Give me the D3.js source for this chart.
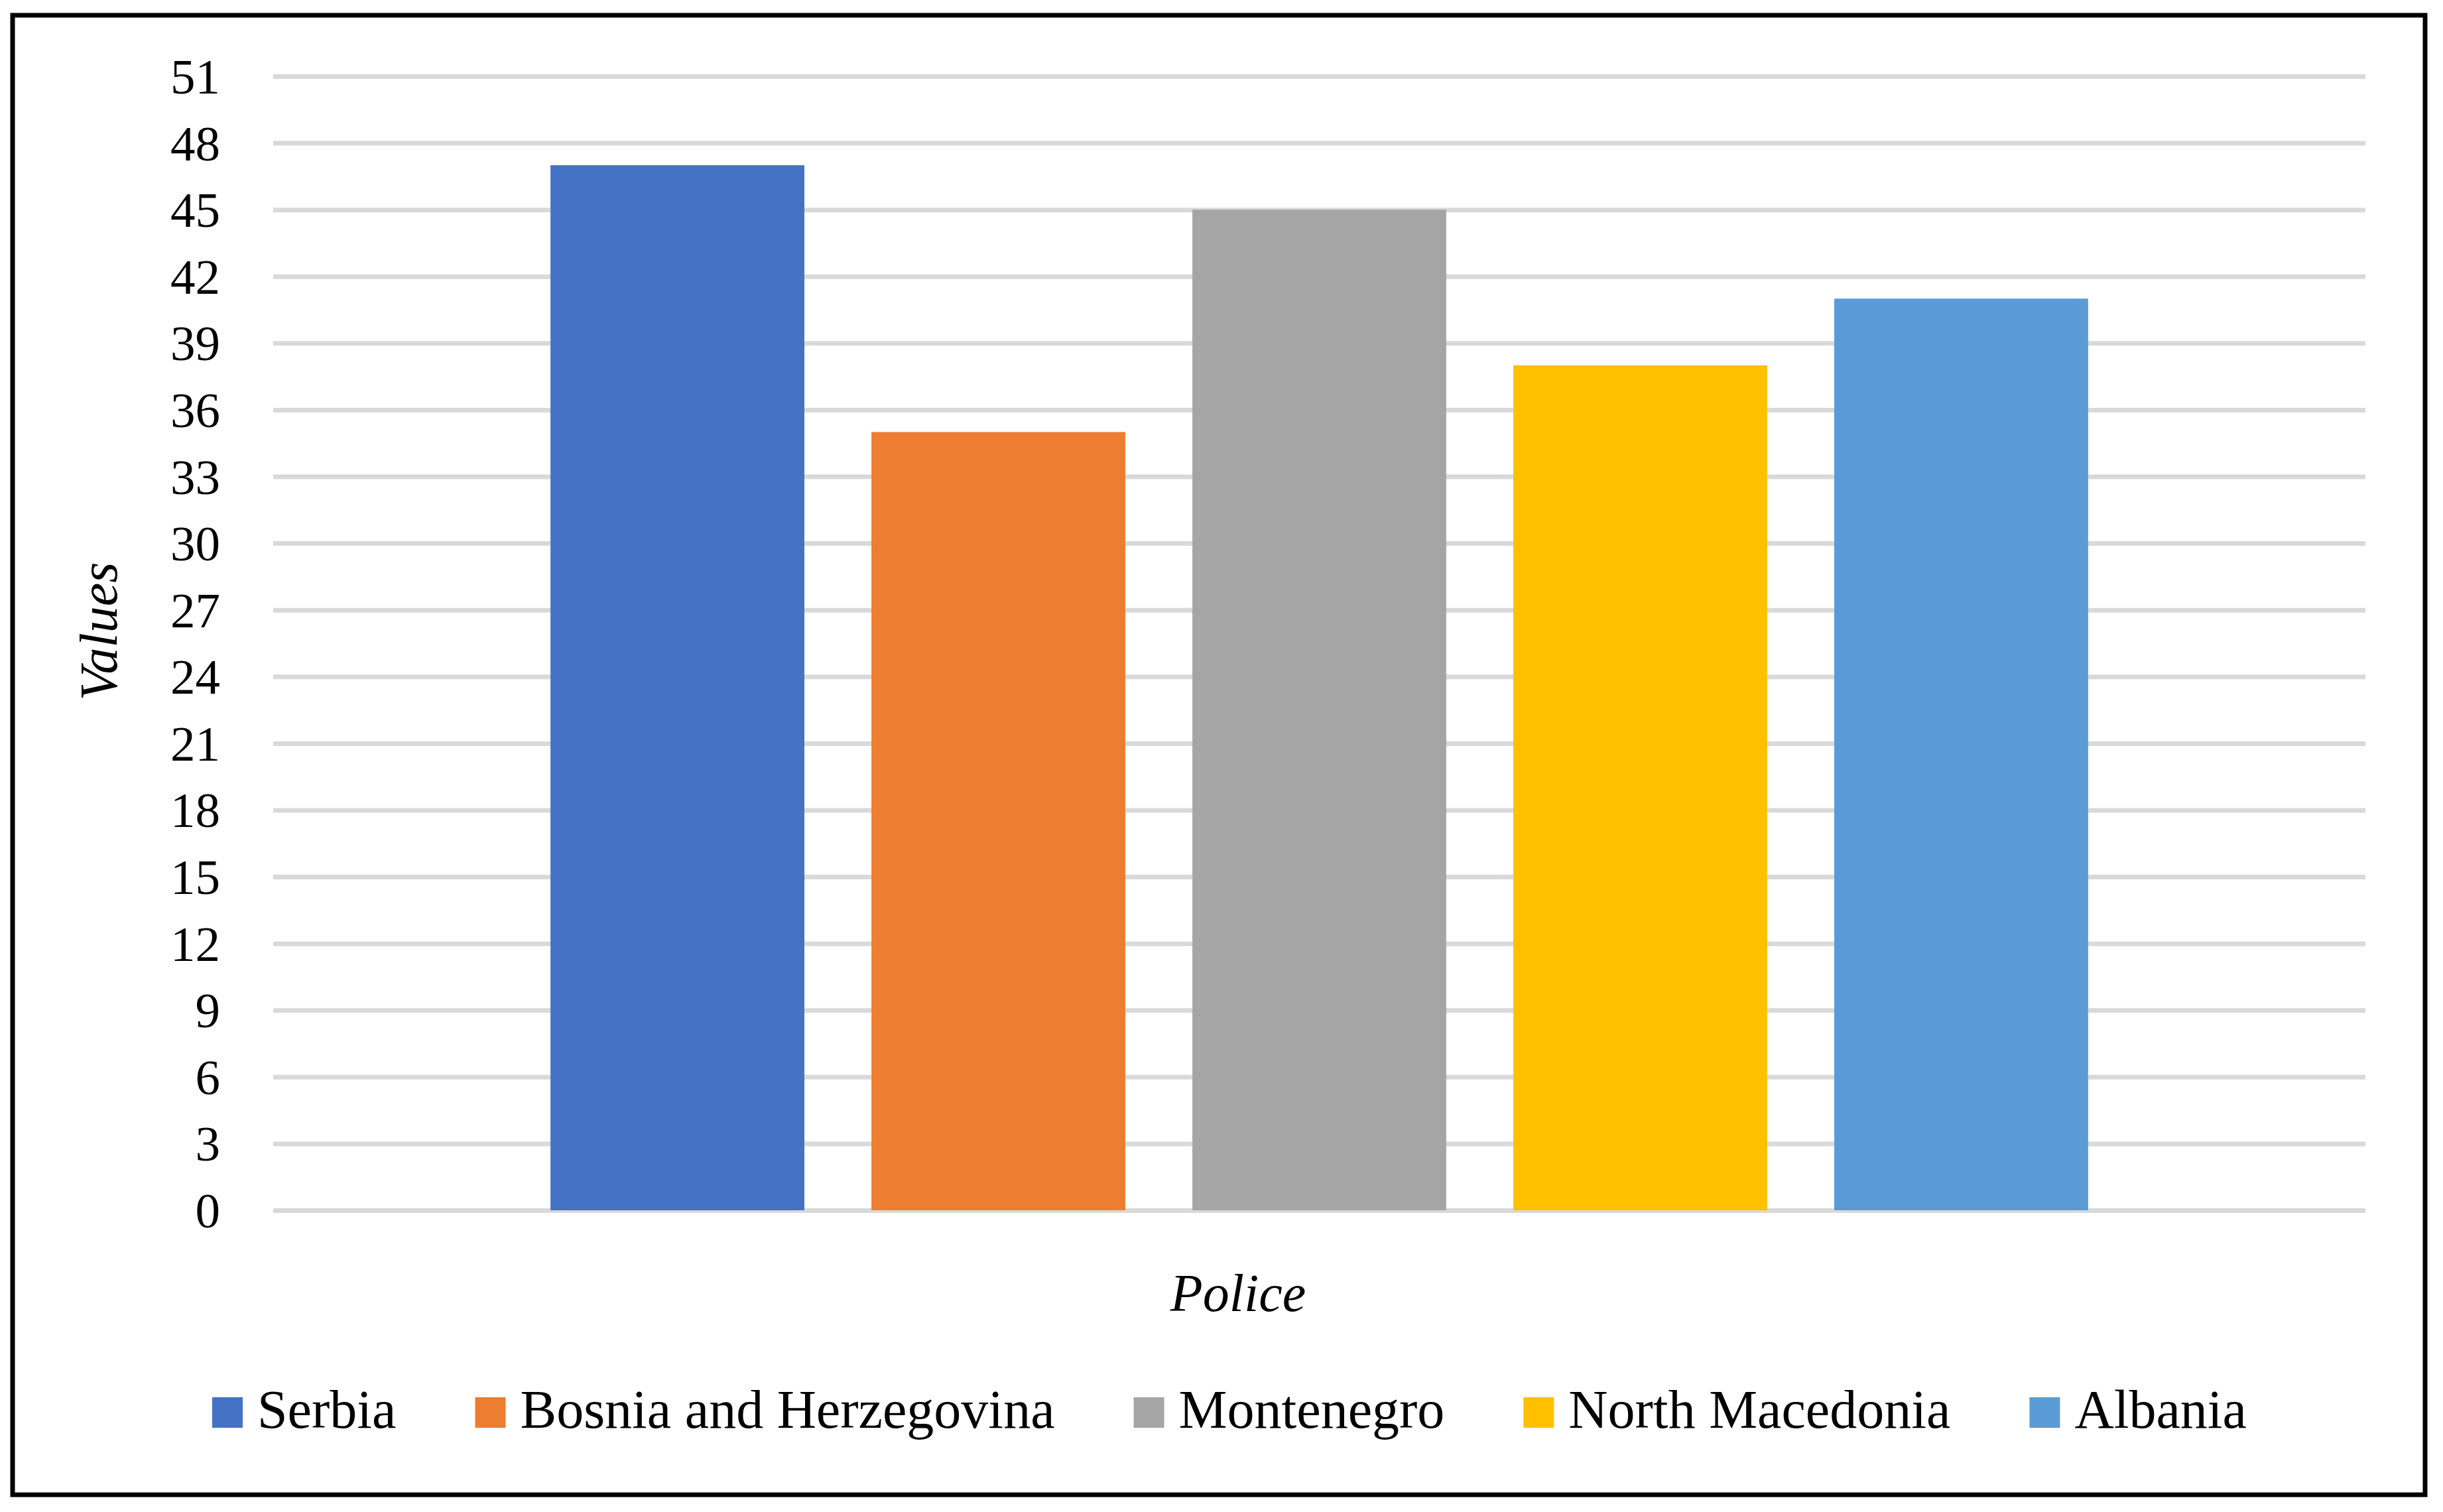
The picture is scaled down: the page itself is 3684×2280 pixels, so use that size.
<!DOCTYPE html>
<html>
<head>
<meta charset="utf-8">
<script src="https://cdn.jsdelivr.net/npm/d3@7"></script>
<style>
  html, body { margin: 0; padding: 0; background: #fff; }
  svg { display: block; }
  text { font-family: "Liberation Serif", "Times New Roman", serif; fill: #000; }
</style>
</head>
<body>
<svg id="chart" width="3684" height="2280"></svg>
<script>
// ---- data ----
const category = "Police";
const seriesNames = ["Serbia", "Bosnia and Herzegovina", "Montenegro", "North Macedonia", "Albania"];
const seriesValues = [47, 35, 45, 38, 41];
const seriesColors = ["#4472C4", "#ED7D31", "#A5A5A5", "#FFC000", "#5B9BD5"];
const yTicks = [0, 3, 6, 9, 12, 15, 18, 21, 24, 27, 30, 33, 36, 39, 42, 45, 48, 51];
const yTitle = "Values";

// ---- layout ----
const W = 3684, H = 2280;
const plot = { left: 412, right: 3567, top: 115, bottom: 1825 };

const svg = d3.select("#chart");

svg.append("rect").attr("width", W).attr("height", H).attr("fill", "#fff");

// border
svg.append("rect")
  .attr("x", 19).attr("y", 23)
  .attr("width", 3638).attr("height", 2231)
  .attr("fill", "none").attr("stroke", "#000").attr("stroke-width", 7);

const y = d3.scaleLinear().domain([0, 51]).range([plot.bottom, plot.top]);
const x = d3.scaleBand().domain(seriesNames)
  .range([plot.left, plot.right])
  .paddingInner(0.209).paddingOuter(0.864);

// y axis with gridlines
const yAxis = d3.axisLeft(y)
  .tickValues(yTicks)
  .tickSize(-(plot.right - plot.left))
  .tickPadding(80)
  .tickFormat(d3.format("d"));

const gy = svg.append("g")
  .attr("transform", `translate(${plot.left},0)`)
  .call(yAxis);
gy.select(".domain").remove();
gy.selectAll(".tick line").attr("stroke", "#D9D9D9").attr("stroke-width", 7);
gy.selectAll(".tick text")
  .attr("font-family", "Liberation Serif, serif")
  .attr("font-size", 75)
  .attr("fill", "#000")
  .attr("dy", "0.34em");

// bars
const data = seriesNames.map((n, i) => ({ name: n, value: seriesValues[i], color: seriesColors[i] }));
svg.append("g").selectAll("rect")
  .data(data)
  .join("rect")
  .attr("x", d => x(d.name))
  .attr("width", x.bandwidth())
  .attr("y", d => y(d.value))
  .attr("height", d => y(0) - y(d.value))
  .attr("fill", d => d.color);

// y title
svg.append("text")
  .attr("transform", "translate(176,952) rotate(-90)")
  .attr("text-anchor", "middle")
  .attr("font-size", 80)
  .attr("font-style", "italic")
  .text(yTitle);

// x title
svg.append("text")
  .attr("x", 1867).attr("y", 1977)
  .attr("text-anchor", "middle")
  .attr("font-size", 80)
  .attr("font-style", "italic")
  .text(category);

// legend
const legendFont = 82, sw = 46, swGap = 22, itemGap = 119, legendCenter = 1854, legendBaseline = 2153;
const lg = svg.append("g");
const items = lg.selectAll("g").data(data).join("g");
items.append("rect")
  .attr("width", sw).attr("height", sw)
  .attr("y", legendBaseline - sw)
  .attr("fill", d => d.color);
items.append("text")
  .attr("x", sw + swGap)
  .attr("y", legendBaseline)
  .attr("font-size", legendFont)
  .text(d => d.name);
let cursor = 0;
const offsets = [];
items.each(function() {
  const tw = d3.select(this).select("text").node().getComputedTextLength();
  offsets.push(cursor);
  cursor += sw + swGap + tw + itemGap;
});
const total = cursor - itemGap;
const startX = legendCenter - total / 2;
items.attr("transform", (d, i) => `translate(${startX + offsets[i]},0)`);
</script>
</body>
</html>
